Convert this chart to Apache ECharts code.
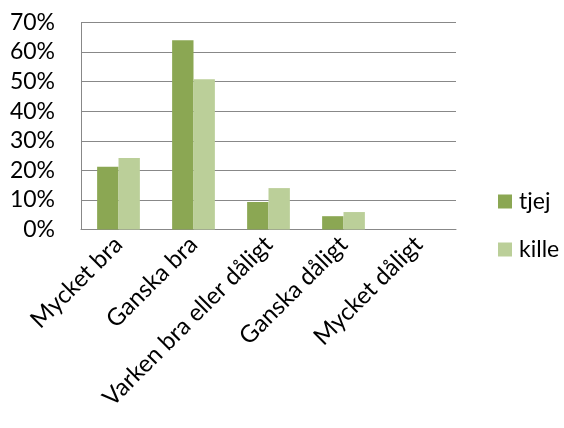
<!DOCTYPE html>
<html>
<head>
<meta charset="utf-8">
<script src="https://cdn.jsdelivr.net/npm/echarts@6/dist/echarts.min.js"></script>
<style>html,body{margin:0;padding:0;background:#fff;}#c{width:564px;height:428px;}</style>
</head>
<body>
<div id="c"></div>
<script>
var categories = ['Mycket bra', 'Ganska bra', 'Varken bra eller dåligt', 'Ganska dåligt', 'Mycket dåligt'];
var tjej = [0.212, 0.640, 0.093, 0.045, 0];
var kille = [0.242, 0.508, 0.140, 0.059, 0];
var yTicks = [0, 0.1, 0.2, 0.3, 0.4, 0.5, 0.6, 0.7];

var font = 'Lato, "Open Sans", sans-serif';
var chart = echarts.init(document.getElementById('c'));
chart.setOption({
  animation: false,
  grid: { left: 81, right: 108, top: 22.5, bottom: 198.5, containLabel: false },
  legend: {
    orient: 'vertical', left: 493, top: 185,
    itemWidth: 14, itemHeight: 14, itemGap: 25,
    icon: 'rect',
    textStyle: { fontFamily: font, fontSize: 23, color: '#000', lineHeight: 23, padding: [0,0,0,2] },
    data: ['tjej', 'kille']
  },
  xAxis: {
    type: 'category', data: categories,
    axisLine: { lineStyle: { color: '#888', width: 1 } },
    axisTick: { show: false },
    axisLabel: { rotate: 45, interval: 0, fontFamily: font, fontSize: 24, color: '#000', margin: 11 }
  },
  yAxis: {
    type: 'value', min: 0, max: 0.7, interval: 0.1,
    axisLine: { show: true, lineStyle: { color: '#888', width: 1 } },
    axisTick: { show: false },
    splitLine: { lineStyle: { color: '#888', width: 1 } },
    axisLabel: { fontFamily: font, fontSize: 23, color: '#000', margin: 26,
      formatter: function (v) { return Math.round(v * 100) + '%'; } }
  },
  series: [
    { name: 'tjej', type: 'bar', data: tjej, barGap: '0%', barCategoryGap: '43%', itemStyle: { color: '#8ba753' } },
    { name: 'kille', type: 'bar', data: kille, barGap: '0%', barCategoryGap: '43%', itemStyle: { color: '#bbcf99' } }
  ]
});
</script>
</body>
</html>
